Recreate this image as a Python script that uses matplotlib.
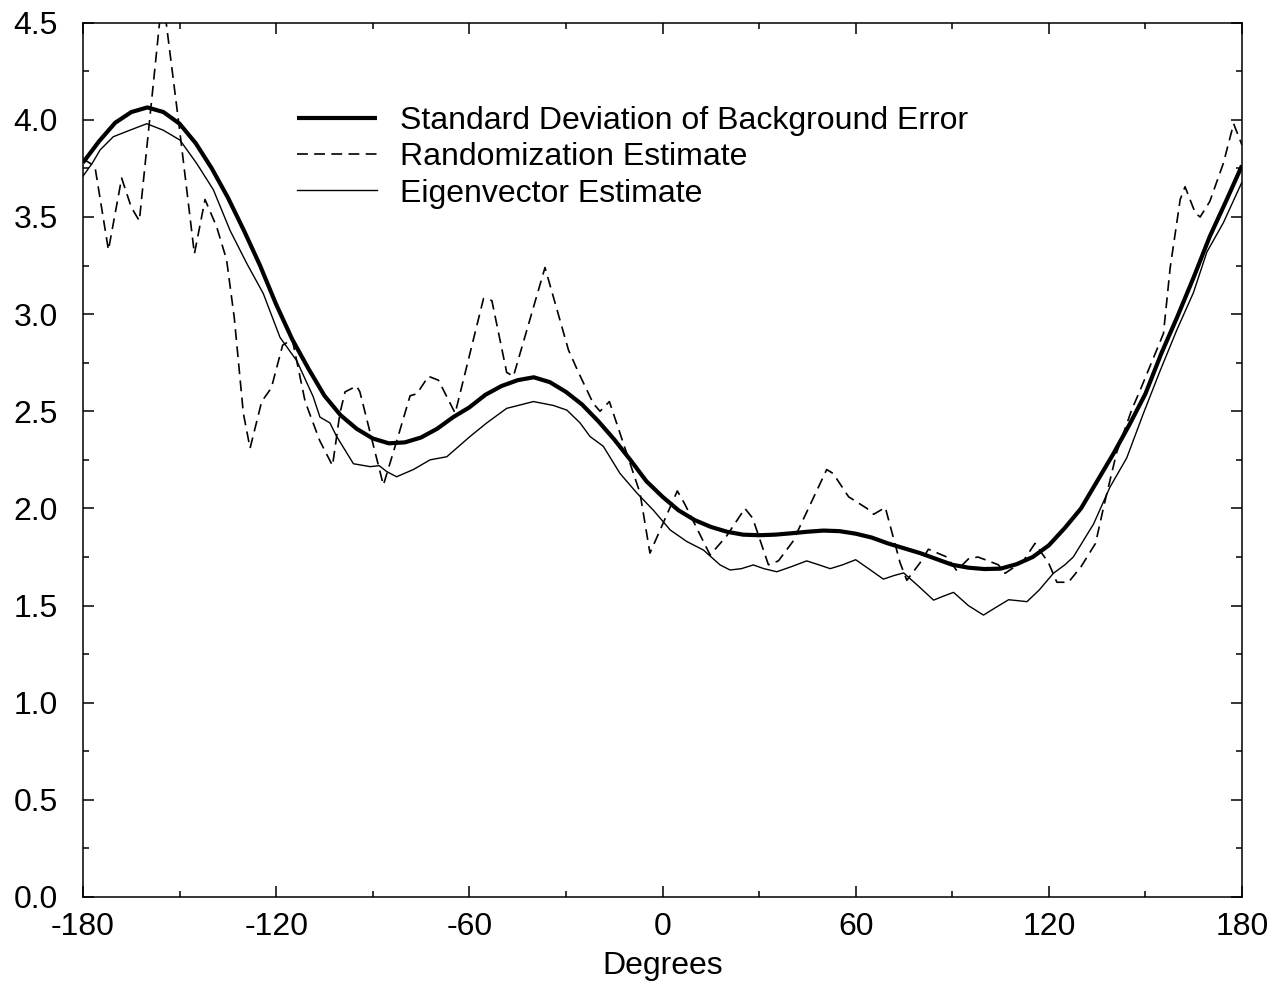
import matplotlib
matplotlib.use("Agg")
import matplotlib.pyplot as plt
from matplotlib.ticker import MultipleLocator

plt.rcParams['font.family'] = ['Liberation Sans', 'DejaVu Sans']

# Standard deviation of background error (thick)
std_x = [-180, -175, -170, -165, -160, -155, -150, -145, -140, -135, -130, -125,
         -120, -115, -110, -105, -100, -95, -90, -85, -80, -75, -70, -65, -60,
         -55, -50, -45, -40, -35, -30, -25, -20, -15, -10, -5, 0, 5, 10, 15, 20,
         25, 30, 35, 40, 45, 50, 55, 60, 65, 70, 75, 80, 85, 90, 95, 100, 105,
         110, 115, 120, 125, 130, 135, 140, 145, 150, 155, 160, 165, 170, 175, 180]
std_y = [3.78, 3.89, 3.985, 4.04, 4.064, 4.04, 3.98, 3.88, 3.75, 3.60, 3.43, 3.25,
         3.05, 2.87, 2.72, 2.58, 2.48, 2.41, 2.36, 2.335, 2.34, 2.365, 2.41, 2.47, 2.52,
         2.585, 2.63, 2.66, 2.675, 2.65, 2.60, 2.535, 2.45, 2.355, 2.25, 2.14, 2.06, 1.99, 1.94, 1.905, 1.88,
         1.865, 1.862, 1.865, 1.872, 1.88, 1.886, 1.883, 1.87, 1.85, 1.82, 1.795, 1.77, 1.74, 1.71, 1.695, 1.688, 1.69,
         1.713, 1.75, 1.81, 1.90, 2.00, 2.14, 2.28, 2.43, 2.59, 2.80, 2.99, 3.19, 3.40, 3.58, 3.765]

# Randomization estimate (dashed)
rand_x = [-180, -176.3, -172.1, -168.0, -165.0, -162.5, -155.3, -150.0, -145.4, -142.1,
          -138.5, -135.4, -133.0, -130.2, -128.1, -124.5, -121.5, -118.0, -115.0, -111.0,
          -106.5, -102.5, -100.2, -98.6, -95.0, -94.0, -86.7, -82.5, -78.4, -76.3, -72.7,
          -69.6, -64.4, -55.6, -53.0, -48.4, -46.3, -36.5, -29.2, -26.1, -21.5, -19.4, -16.5,
          -7.0, -3.9, 4.6, 7.0, 14.8, 20.0, 25.6, 28.0, 32.9, 36.0, 40.5, 51.0, 53.0, 57.8,
          63.5, 65.6, 69.2, 73.8, 75.9, 80.0, 82.6, 88.3, 91.4, 95.0, 98.0, 104.3, 106.4,
          112.1, 115.7, 119.9, 122.5, 126.1, 130.0, 134.5, 137.2, 141.1, 145.8, 148.4, 155.6,
          157.7, 160.8, 162.3, 165.5, 167.0, 170.0, 174.2, 177.4, 180]
rand_y = [3.80, 3.76, 3.33, 3.70, 3.55, 3.48, 4.65, 3.95, 3.31, 3.59,
          3.45, 3.28, 2.98, 2.49, 2.31, 2.55, 2.62, 2.84, 2.87, 2.55,
          2.35, 2.22, 2.49, 2.60, 2.63, 2.60, 2.12, 2.35, 2.58, 2.59, 2.68,
          2.66, 2.49, 3.08, 3.07, 2.70, 2.68, 3.24, 2.815, 2.70, 2.54, 2.50, 2.55,
          2.08, 1.77, 2.09, 2.02, 1.76, 1.86, 2.00, 1.95, 1.71, 1.73, 1.83, 2.20, 2.18, 2.06,
          2.00, 1.97, 2.005, 1.72, 1.63, 1.72, 1.79, 1.75, 1.68, 1.74, 1.75, 1.71, 1.666,
          1.73, 1.82, 1.72, 1.62, 1.62, 1.70, 1.82, 2.02, 2.29, 2.51, 2.61, 2.90,
          3.24, 3.59, 3.656, 3.52, 3.50, 3.58, 3.776, 3.98, 3.87]

# Eigenvector estimate (thin)
eig_x = [-180, -177, -174.7, -170.6, -165.4, -160.2, -155.1, -149.9, -144.7, -139.5, -134.3,
         -129.1, -124.0, -118.8, -113.6, -108.5, -106.4, -103.3, -101.2, -96.0, -90.8, -88.0,
         -85.7, -82.6, -77.4, -72.2, -67.0, -59.8, -54.6, -48.4, -40.1, -33.9, -29.7, -25.6,
         -22.5, -18.4, -13.2, -8.0, -2.8, 2.4, 7.5, 12.7, 17.9, 21.0, 24.5, 28.2, 31.5, 35.5,
         40.0, 44.8, 48.5, 52.1, 56.0, 60.0, 64.0, 68.6, 72.0, 74.9, 79.5, 84.2, 87.5, 90.4,
         95.0, 99.7, 103.5, 107.5, 110.5, 113.2, 117.0, 121.4, 125.0, 127.6, 133.9, 139.0,
         144.2, 149.4, 154.6, 159.8, 164.9, 169.1, 174.2, 180]
eig_y = [3.71, 3.78, 3.845, 3.913, 3.947, 3.98, 3.947, 3.896, 3.776, 3.64, 3.43,
         3.26, 3.106, 2.88, 2.76, 2.575, 2.47, 2.44, 2.37, 2.23, 2.215, 2.22,
         2.19, 2.163, 2.20, 2.25, 2.266, 2.37, 2.44, 2.515, 2.55, 2.53, 2.506, 2.44,
         2.37, 2.32, 2.18, 2.08, 1.99, 1.889, 1.83, 1.786, 1.709, 1.683, 1.69, 1.709, 1.69, 1.674,
         1.70, 1.73, 1.71, 1.69, 1.71, 1.736, 1.69, 1.636, 1.655, 1.668, 1.60, 1.528, 1.55, 1.568,
         1.50, 1.451, 1.49, 1.53, 1.525, 1.52, 1.58, 1.666, 1.71, 1.75, 1.92, 2.11,
         2.26, 2.49, 2.71, 2.92, 3.11, 3.32, 3.47, 3.68]

x_ticks = [-180, -120, -60, 0, 60, 120, 180]
y_ticks = [0.0, 0.5, 1.0, 1.5, 2.0, 2.5, 3.0, 3.5, 4.0, 4.5]
labels = ["Standard Deviation of Background Error", "Randomization Estimate", "Eigenvector Estimate"]

FS = 23

fig = plt.figure(figsize=(12.79, 9.85), dpi=100)
ax = fig.add_axes([83/1279, 88/985, (1242-83)/1279, (897-22.7)/985])

ax.plot(std_x, std_y, color='black', lw=3.0, solid_capstyle='butt', label=labels[0])
l2, = ax.plot(rand_x, rand_y, color='black', lw=1.2, label=labels[1])
l2.set_dashes([6.5, 3.8])
ax.plot(eig_x, eig_y, color='black', lw=1.0, label=labels[2])

ax.set_xlim(-180, 180)
ax.set_ylim(0, 4.5)
ax.set_xticks(x_ticks)
ax.set_xticklabels([str(v) for v in x_ticks])
ax.set_yticks(y_ticks)
ax.set_yticklabels([f"{v:.1f}" for v in y_ticks])
ax.xaxis.set_minor_locator(MultipleLocator(30))
ax.yaxis.set_minor_locator(MultipleLocator(0.25))
ax.tick_params(which='both', direction='in', top=True, right=True, width=1.1, labelsize=FS)
ax.tick_params(which='major', length=8)
ax.tick_params(which='minor', length=4.5)
ax.tick_params(axis='x', pad=11)
ax.tick_params(axis='y', pad=18)
for s in ax.spines.values():
    s.set_linewidth(1.1)

ax.set_xlabel("Degrees", fontsize=FS, labelpad=6)

ax.legend(loc='upper left', bbox_to_anchor=(0.1846, 0.905), frameon=False, fontsize=FS,
          handlelength=2.5, handletextpad=0.72, labelspacing=0.2, borderpad=0, borderaxespad=0)

fig.savefig("out.png", dpi=100)
